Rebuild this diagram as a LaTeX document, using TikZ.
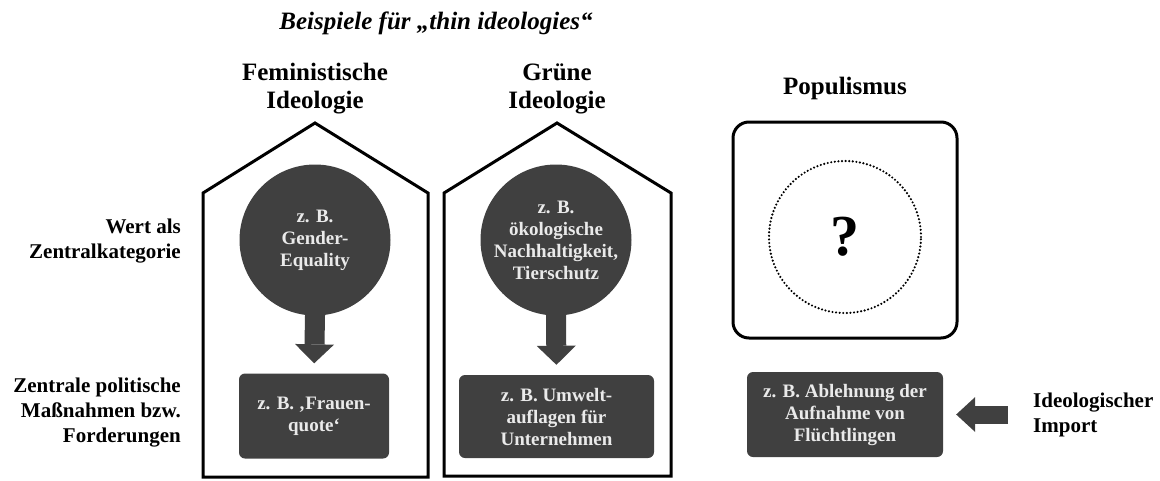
\documentclass[tikz,border=0pt]{standalone}
\usepackage{fontspec}
\setmainfont{Liberation Serif}
\usetikzlibrary{arrows.meta}
\definecolor{dunkel}{HTML}{404040}
\definecolor{hell}{HTML}{EAEAEA}

\begin{document}
\begin{tikzpicture}[x=1pt,y=-1pt,
  kopf/.style={inner sep=0pt,align=center,font=\fontsize{25}{28}\selectfont\bfseries},
  seite/.style={inner sep=0pt,font=\fontsize{21}{25}\selectfont\bfseries},
  wert/.style={circle,fill=dunkel,text=hell,minimum size=151,inner sep=0pt,align=center,
    font=\fontsize{19}{22}\selectfont\bfseries},
  massnahme/.style={rectangle,rounded corners=6,fill=dunkel,text=hell,align=center,
    font=\fontsize{19}{22}\selectfont\bfseries},
  pfeil/.style={draw=dunkel,line width=20,-{Triangle[length=19pt,width=39pt,line width=0pt]}},
  haus/.style={line width=3,line join=miter}]
  \useasboundingbox (0,0) rectangle (1160,480);

  \node[kopf,font=\fontsize{25}{28}\selectfont\bfseries\itshape] (titel) at (436,23) {Beispiele für „thin ideologies“};

  % Zeilenbeschriftung
  \node[seite,align=right,anchor=east] (wert) at (181,241) {Wert als\\Zentralkategorie};
  \node[seite,align=right,anchor=east] (forderung) at (181,413) {Zentrale politische\\Maßnahmen bzw.\\Forderungen};

  % feministische Ideologie
  \node[kopf] (fem) at (315,89) {Feministische\\Ideologie};
  \draw[haus] (203,193) -- (315,123) -- (428,193) -- (428,477) -- (203,477) -- cycle;
  \node[wert] (femwert) at (315,240) {z. B.\\Gender-\\Equality};
  \node[massnahme,minimum width=150,minimum height=85] (femmass) at (314,416) {z. B. ‚Frauen-\\quote‘};
  \draw[pfeil,shorten <=-3pt,shorten >=10pt] (femwert.south) -- (femmass.north);

  % gruene Ideologie
  \node[kopf] (gruen) at (557,89) {Grüne\\Ideologie};
  \draw[haus] (444,193) -- (557,123) -- (671,193) -- (671,476) -- (444,476) -- cycle;
  \node[wert] (gruenwert) at (556,240) {z. B.\\ökologische\\Nachhaltigkeit,\\Tierschutz};
  \node[massnahme,minimum width=195,minimum height=83] (gruenmass) at (556.5,416.5) {z. B. Umwelt-\\auflagen für\\Unternehmen};
  \draw[pfeil,shorten <=-3pt,shorten >=10pt] (gruenwert.south) -- (gruenmass.north);

  % Populismus
  \node[kopf] (pop) at (845,88) {Populismus};
  \node[draw,line width=3,rounded corners=16,minimum width=224,minimum height=216] (popkern) at (845,230) {};
  \node[circle,draw,line width=2.4,line cap=round,dash pattern=on 0pt off 3.6pt,minimum size=152,
    font=\fontsize{58}{60}\selectfont\bfseries] (popwert) at (845,237) {?};
  \node[massnahme,minimum width=196,minimum height=85] (popmass) at (845,414.5) {z. B. Ablehnung der\\Aufnahme von\\Flüchtlingen};
  \node[seite,align=left,anchor=west] (import) at (1033,414.5) {Ideologischer\\Import};
  \draw[pfeil,line width=18,-{Triangle[length=19pt,width=35pt,line width=0pt]},shorten <=25pt,shorten >=13pt]
    (import.west) -- (popmass.east);
\end{tikzpicture}
\end{document}
